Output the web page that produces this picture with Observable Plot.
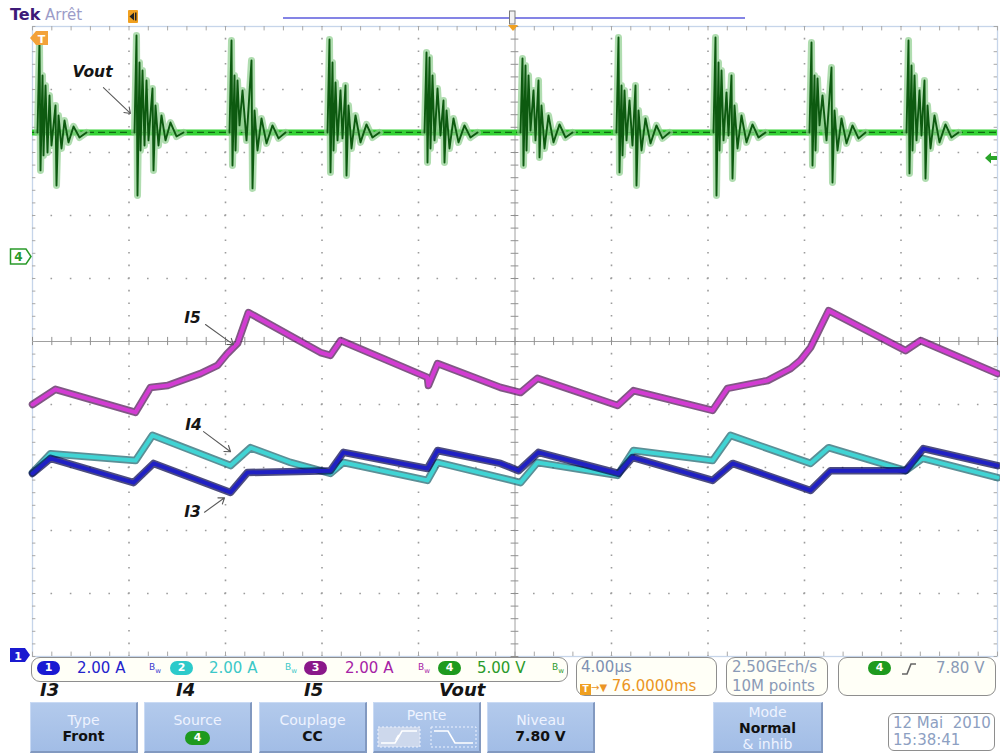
<!DOCTYPE html>
<html><head><meta charset="utf-8">
<script src="https://cdn.jsdelivr.net/npm/d3@7"></script>
<script src="https://cdn.jsdelivr.net/npm/@observablehq/plot@0.6"></script>
<style>
body{margin:0;background:#fff;font-family:"DejaVu Sans",sans-serif;}
#root{position:relative;width:1000px;height:753px;overflow:hidden;background:#fff;}
#root svg.plot{position:absolute;left:0;top:0;}
.abs{position:absolute;white-space:pre;line-height:16px;}
.box{position:absolute;border:1.5px solid #8e8e8e;border-radius:9px;background:#fffff7;box-sizing:border-box;}
.badge{position:absolute;height:14px;width:23px;border-radius:7px;color:#fff;font:bold 11px "DejaVu Sans";text-align:center;line-height:14px;}
.bw{position:absolute;font-size:9px;line-height:10px;}
.lab{position:absolute;font:italic bold 18px "DejaVu Sans";color:#151515;line-height:18px;}
.btn{position:absolute;top:702px;height:51px;width:108px;background:linear-gradient(#b3caec,#a2bde6);border-right:2px solid #8299c0;border-bottom:2px solid #8299c0;border-top:1px solid #c9daf4;border-left:1px solid #c9daf4;box-sizing:border-box;}
.bl{position:absolute;left:0;right:0;text-align:center;color:#eef3ff;font-size:14px;line-height:16px;}
.bv{position:absolute;left:0;right:0;text-align:center;color:#111;font-size:14px;font-weight:bold;line-height:16px;}
#deco{position:absolute;left:0;top:0;pointer-events:none;}
</style>
</head><body>
<div id="root"></div>
<script>
// ---------- data ----------
// time in µs (4 µs/div, 10 divisions), currents in A, Vout in V
const channelNames = ["I3", "I4", "I5", "Vout"];
const unitsPerDiv = [2, 2, 2, 5];          // 2.00 A, 2.00 A, 2.00 A, 5.00 V per division
const groundDiv = [-5, -5, -5, 1.35];       // channel ground reference (divisions from centre)
const timePerDiv = 4;                       // µs/div
const triggerLevel = 7.80;                  // V on channel 4

// I3 (channel 1) [t µs, A]
const i3 = [[0,5.81],[0.75,6.29],[4.19,5.52],[5.02,6.13],[8.21,5.21],[8.91,5.84],[12.35,5.90],[12.89,6.48],[16.37,5.97],[16.79,6.54],[19.40,6.13],[20.15,5.90],[20.97,6.48],[24.29,5.81],[24.87,6.32],[28.19,5.59],[29.02,6.13],[32.25,5.27],[33.08,5.90],[36.19,5.90],[36.93,6.60],[40.00,6.06]];
// I4 (channel 2)
const i4 = [[0,5.84],[0.75,6.44],[4.27,6.22],[4.97,7.02],[8.21,6.06],[9.04,6.63],[10.69,6.16],[12.35,5.81],[12.89,6.16],[16.37,5.59],[16.79,6.16],[19.40,5.68],[20.23,5.52],[20.93,6.16],[24.25,5.75],[24.91,6.54],[28.19,6.22],[28.93,7.02],[32.25,6.13],[33.00,6.63],[36.19,5.90],[36.89,6.29],[40.00,5.68]];
// I5 (channel 3)
const i5 = [[0,8.00],[0.95,8.48],[4.27,7.75],[4.89,8.54],[5.60,8.60],[6.96,8.98],[7.67,9.24],[8.08,9.62],[8.50,9.94],[8.95,10.92],[11.94,9.65],[12.35,9.56],[12.77,10.03],[16.37,8.86],[16.41,8.60],[16.79,9.30],[19.40,8.54],[20.23,8.38],[20.93,8.83],[24.25,7.97],[24.91,8.44],[28.19,7.81],[28.81,8.51],[30.47,8.76],[31.42,9.14],[31.83,9.40],[32.25,9.81],[33.00,10.98],[36.19,9.71],[36.81,10.03],[40.00,8.98]];
// Vout (channel 4): DC level and the ringing bursts [t µs, V]
const voutLevel = 9.84;
const vBurst1 = [[0.207,9.84],[0.290,17.14],[0.332,6.83],[0.415,14.37],[0.456,8.02],[0.539,13.57],[0.622,8.25],[0.705,12.78],[0.788,8.81],[0.953,11.98],[0.995,5.63],[1.078,11.19],[1.202,8.57],[1.326,10.79],[1.492,9.05],[1.700,10.32],[1.948,9.44],[2.238,9.84]];
const vBurst2 = [[4.228,9.84],[4.311,17.54],[4.352,4.84],[4.435,15.40],[4.477,8.41],[4.560,14.76],[4.643,8.81],[4.725,13.97],[4.808,9.21],[4.974,13.33],[5.016,6.83],[5.098,11.98],[5.223,8.81],[5.347,11.19],[5.513,9.21],[5.720,10.63],[5.969,9.52],[6.259,9.84]];
const vBurst3 = [[8.166,9.84],[8.249,17.14],[8.290,7.22],[8.373,14.37],[8.415,8.41],[8.497,13.97],[8.580,10.40],[8.705,13.17],[8.871,9.21],[9.078,15.56],[9.120,5.40],[9.202,11.59],[9.326,8.41],[9.492,10.95],[9.700,8.97],[9.948,10.40],[10.197,9.37],[10.487,9.84]];
const vBurst4 = [[12.228,9.84],[12.311,17.22],[12.352,6.67],[12.435,15.40],[12.477,8.41],[12.560,13.81],[12.643,9.21],[12.767,13.17],[12.850,9.37],[12.974,13.57],[13.016,6.43],[13.098,11.98],[13.223,8.57],[13.389,11.19],[13.596,9.05],[13.845,10.48],[14.093,9.44],[14.383,9.84]];
const vBurst5 = [[16.249,9.84],[16.332,16.19],[16.373,7.46],[16.456,15.79],[16.497,8.57],[16.580,14.37],[16.663,9.21],[16.788,13.33],[16.912,9.60],[17.036,12.38],[17.078,7.46],[17.161,11.59],[17.285,8.57],[17.451,10.95],[17.658,9.05],[17.907,10.40],[18.155,9.44],[18.446,9.84]];
const vBurst6 = [[20.228,9.84],[20.311,15.71],[20.352,7.22],[20.435,15.16],[20.477,8.41],[20.560,14.37],[20.643,10.00],[20.767,13.17],[20.850,9.21],[20.974,13.97],[21.016,7.86],[21.098,11.98],[21.223,8.57],[21.389,11.19],[21.596,9.05],[21.845,10.48],[22.093,9.44],[22.383,9.84]];
const vBurst7 = [[24.207,9.84],[24.290,17.38],[24.332,6.67],[24.415,13.57],[24.456,8.02],[24.539,13.17],[24.622,9.21],[24.746,12.38],[24.870,8.81],[24.995,13.57],[25.036,5.63],[25.119,11.59],[25.244,8.41],[25.409,10.95],[25.617,8.97],[25.865,10.40],[26.114,9.37],[26.404,9.84]];
const vBurst8 = [[28.228,9.84],[28.311,17.38],[28.352,4.84],[28.435,15.40],[28.477,8.41],[28.560,14.76],[28.643,9.21],[28.767,13.02],[28.850,9.60],[28.974,14.37],[29.016,6.19],[29.098,11.98],[29.223,8.57],[29.389,11.19],[29.596,9.05],[29.845,10.48],[30.093,9.44],[30.383,9.84]];
const vBurst9 = [[32.207,9.84],[32.290,16.98],[32.332,7.22],[32.415,14.37],[32.456,8.41],[32.539,14.13],[32.622,10.40],[32.746,12.78],[32.912,9.21],[33.119,15.00],[33.161,5.87],[33.243,11.59],[33.368,8.41],[33.534,10.95],[33.741,8.97],[33.990,10.40],[34.239,9.37],[34.529,9.84]];
const vBurst10 = [[36.228,9.84],[36.311,17.14],[36.352,6.59],[36.435,15.16],[36.477,8.41],[36.560,14.37],[36.642,9.21],[36.767,13.17],[36.850,9.60],[36.974,13.97],[37.016,6.19],[37.099,11.98],[37.223,8.57],[37.389,11.19],[37.596,9.05],[37.845,10.48],[38.093,9.44],[38.383,9.84]];

// annotation labels and arrows (t µs, screen divisions)
const noteText = ["Vout", "I5", "I4", "I3"];
const noteT = [2.49, 6.63, 6.67, 6.63];
const noteDiv = [4.27, 0.38, -1.32, -2.71];
const arrowT1 = [2.94, 7.17, 7.09, 7.13], arrowD1 = [4.03, 0.27, -1.43, -2.71];
const arrowT2 = [4.06, 8.33, 8.21, 7.96], arrowD2 = [3.62, -0.05, -1.75, -2.48];

// ---------- chart ----------
const toDiv = ch => d => d[1] / unitsPerDiv[ch] + groundDiv[ch];
const X = d => d[0];
const majorX = d3.range(0, 10 * timePerDiv + 0.001, timePerDiv);
const majorY = d3.range(-5, 5.001, 1);
const minorX = d3.range(0, 40.001, timePerDiv / 5);
const minorY = d3.range(-5, 5.001, 0.2);
const gridC = "#9c9c9c";
const baseDiv = voutLevel / unitsPerDiv[3] + groundDiv[3];

function band(data, ch, edge, core) {
  return [
    Plot.line(data, {x: X, y: toDiv(ch), stroke: edge, strokeWidth: 7.5, strokeOpacity: 0.7, strokeLinejoin: "round"}),
    Plot.line(data, {x: X, y: toDiv(ch), stroke: core, strokeWidth: 4, strokeLinejoin: "round"})
  ];
}
const bursts = [vBurst1, vBurst2, vBurst3, vBurst4, vBurst5, vBurst6, vBurst7, vBurst8, vBurst9, vBurst10];
const notes = noteText.map((s, i) => ({s, t: noteT[i], d: noteDiv[i], t1: arrowT1[i], d1: arrowD1[i], t2: arrowT2[i], d2: arrowD2[i]}));

const chart = Plot.plot({
  width: 1000, height: 670,
  marginTop: 26, marginBottom: 14, marginLeft: 32, marginRight: 3,
  x: {domain: [0, 40], axis: null},
  y: {domain: [-5, 5], axis: null},
  style: {background: "#fff", overflow: "visible"},
  marks: [
    Plot.frame({stroke: "#c6d5ea", strokeWidth: 1.3}),
    Plot.ruleX(majorX.filter(t => t > 0 && t < 40 && t !== 20), {stroke: gridC, strokeWidth: 1.6, strokeDasharray: "1.6 11", strokeDashoffset: 0.8}),
    Plot.ruleY(majorY.filter(v => v > -5 && v < 5 && v !== 0), {stroke: gridC, strokeWidth: 1.6, strokeDasharray: "1.6 17.7", strokeDashoffset: 0.8}),
    Plot.ruleX([20], {stroke: "#a0a0a0", strokeWidth: 1}),
    Plot.ruleY([0], {stroke: "#a0a0a0", strokeWidth: 1}),
    Plot.ruleX(minorX, {y1: -0.065, y2: 0.065, stroke: "#909090"}),
    Plot.ruleY(minorY, {x1: 19.84, x2: 20.16, stroke: "#909090"}),
    Plot.ruleX(minorX, {y1: 5, y2: 4.93, stroke: "#a8a8a8"}),
    Plot.ruleX(minorX, {y1: -5, y2: -4.93, stroke: "#a8a8a8"}),
    Plot.ruleY(minorY, {x1: 0, x2: 0.14, stroke: "#a8a8a8"}),
    Plot.ruleY(minorY, {x1: 40, x2: 39.86, stroke: "#a8a8a8"}),
    // Vout
    Plot.ruleY([voutLevel], {y: v => v / unitsPerDiv[3] + groundDiv[3], x1: 0, x2: 40, stroke: "#35d235", strokeWidth: 6}),
    Plot.ruleY([voutLevel], {y: v => v / unitsPerDiv[3] + groundDiv[3], x1: 0, x2: 40, stroke: "#116a14", strokeWidth: 1.2, strokeDasharray: "7 4"}),
    ...bursts.map(b => Plot.areaY(b, {x: X, y1: () => baseDiv, y2: toDiv(3), fill: "#7fc47f", fillOpacity: 0.75})),
    ...bursts.map(b => Plot.line(b, {x: X, y: toDiv(3), stroke: "#8fcf8f", strokeWidth: 7, strokeOpacity: 0.7, strokeLinejoin: "round"})),
    ...bursts.map(b => Plot.line(b, {x: X, y: toDiv(3), stroke: "#0d5a10", strokeWidth: 1.9})),
    // currents
    ...band(i5, 2, "#4a1050", "#d23cd2"),
    ...band(i4, 1, "#15606a", "#40d4d4"),
    ...band(i3, 0, "#00004a", "#2020c4"),
    // annotations
    Plot.arrow(notes, {x1: "t1", y1: "d1", x2: "t2", y2: "d2", stroke: "#5a5a5a", strokeWidth: 1.1, headLength: 9, headAngle: 70}),
    Plot.text(notes, {x: "t", y: "d", text: "s", fontSize: 15.5, fontWeight: "bold", fontStyle: "italic", fontFamily: "DejaVu Sans", fill: "#151515"})
  ]
});
chart.classList.add("plot");
const root = document.getElementById("root");
root.appendChild(chart);

// ---------- scope UI around the graticule ----------
const ui = `
<svg id="deco" width="1000" height="753">
  <line x1="283" y1="18" x2="745" y2="18" stroke="#5b5bdc" stroke-width="1.6"/>
  <rect x="509.5" y="11" width="5.5" height="13" fill="#f2f2f2" stroke="#7a7a7a"/>
  <rect x="128" y="10" width="10" height="13" rx="1" fill="#f0a020"/>
  <path d="M134 12.5 L129.5 16.5 L134 20.5Z" fill="#222"/><rect x="135" y="12.5" width="1.5" height="8" fill="#222"/>
  <path d="M508 25 L518 25 L513 31Z" fill="#f0a020"/>
  <path d="M30 38 L36 31 L48 31 L48 45 L36 45Z" fill="#f3a23a"/>
  <text x="41.5" y="42.5" fill="#fff" font-size="11" font-weight="bold" text-anchor="middle" font-family="DejaVu Sans">T</text>
  <path d="M10.5 249 L26 249 L31 256.5 L26 264 L10.5 264Z" fill="#fff" stroke="#2a9a2a" stroke-width="1.5"/>
  <text x="18.5" y="261" fill="#2a9a2a" font-size="12" font-weight="bold" text-anchor="middle" font-family="DejaVu Sans">4</text>
  <path d="M10 648 L25 648 L30 655 L25 662 L10 662Z" fill="#1a1ad0"/>
  <text x="18" y="659.5" fill="#fff" font-size="11" font-weight="bold" text-anchor="middle" font-family="DejaVu Sans">1</text>
  <path d="M985 158 L991 152.5 L991 156 L997 156 L997 160 L991 160 L991 163.5Z" fill="#2aa52a"/>
  <path d="M902 674 L907 674 L911 664 L916 664" stroke="#666" stroke-width="1.6" fill="none"/>
  <rect x="378" y="727" width="42" height="20" fill="#cdd8ec" stroke="#eef3ff" stroke-dasharray="2 2"/>
  <path d="M381 743 L395 743 L402 731 L417 731" stroke="#fff" stroke-width="1.6" fill="none"/>
  <path d="M396 740 L399 735" stroke="#fff" stroke-width="2"/>
  <rect x="431" y="727" width="45" height="20" fill="none" stroke="#eef3ff" stroke-dasharray="2 2"/>
  <path d="M434 731 L448 731 L455 743 L473 743" stroke="#fff" stroke-width="1.6" fill="none"/>
</svg>
<div class="abs" style="left:10px;top:5px;font:bold 16px 'DejaVu Sans';color:#3e1a78">Tek</div>
<div class="abs" style="left:45px;top:6px;font:15px 'DejaVu Sans';color:#9c9cc8">Arrêt</div>

<div class="box" style="left:31px;top:657px;width:537px;height:25px"></div>
<div class="badge" style="left:37px;top:661px;background:#1a1ad2">1</div>
<div class="abs" style="left:77px;top:660px;font-size:15px;color:#2424cc">2.00 A</div>
<div class="bw" style="left:149px;top:662px;color:#3a3ad0">B<sub style="font-size:7px">w</sub></div>
<div class="badge" style="left:170px;top:661px;background:#2ccaca">2</div>
<div class="abs" style="left:209px;top:660px;font-size:15px;color:#3cc8c8">2.00 A</div>
<div class="bw" style="left:285px;top:662px;color:#3cc8c8">B<sub style="font-size:7px">w</sub></div>
<div class="badge" style="left:304px;top:661px;background:#8a188a">3</div>
<div class="abs" style="left:345px;top:660px;font-size:15px;color:#a622a6">2.00 A</div>
<div class="bw" style="left:418px;top:662px;color:#a622a6">B<sub style="font-size:7px">w</sub></div>
<div class="badge" style="left:438px;top:661px;background:#1e9a1e">4</div>
<div class="abs" style="left:477px;top:660px;font-size:15px;color:#2a9a2a">5.00 V</div>
<div class="bw" style="left:552px;top:662px;color:#2a9a2a">B<sub style="font-size:7px">w</sub></div>

<div class="box" style="left:576px;top:657px;width:141px;height:39px"></div>
<div class="abs" style="left:581px;top:659px;font-size:15px;color:#7d90b2">4.00µs</div>
<div class="abs" style="left:580px;top:678px;font-size:15px;color:#eb9523"><span style="display:inline-block;width:11px;height:11px;background:#f0a020;color:#fff;font-size:9px;line-height:11px;text-align:center;vertical-align:-1px;font-weight:bold">T</span><span style="font-size:10px">→▼</span> 76.0000ms</div>
<div class="box" style="left:726px;top:657px;width:102px;height:39px"></div>
<div class="abs" style="left:732px;top:659px;font-size:15px;color:#8a9ab6">2.50GEch/s</div>
<div class="abs" style="left:732px;top:678px;font-size:15px;color:#8a9ab6">10M points</div>
<div class="box" style="left:838px;top:657px;width:158px;height:39px"></div>
<div class="badge" style="left:868px;top:661px;background:#1e9a1e">4</div>
<div class="abs" style="left:936px;top:660px;font-size:15px;color:#8a9ab6">${triggerLevel.toFixed(2)} V</div>

<div class="lab" style="left:40px;top:681px">${channelNames[0]}</div>
<div class="lab" style="left:176px;top:681px">${channelNames[1]}</div>
<div class="lab" style="left:304px;top:681px">${channelNames[2]}</div>
<div class="lab" style="left:439px;top:681px">${channelNames[3]}</div>

<div class="btn" style="left:30px"><div class="bl" style="top:9px">Type</div><div class="bv" style="top:25px">Front</div></div>
<div class="btn" style="left:144px"><div class="bl" style="top:9px">Source</div><div class="badge" style="left:40px;top:28px;width:25px;height:14px;background:#1e9a1e">4</div></div>
<div class="btn" style="left:259px"><div class="bl" style="top:9px">Couplage</div><div class="bv" style="top:25px">CC</div></div>
<div class="btn" style="left:373px"><div class="bl" style="top:4px">Pente</div></div>
<div class="btn" style="left:487px"><div class="bl" style="top:9px">Niveau</div><div class="bv" style="top:25px">${triggerLevel.toFixed(2)} V</div></div>
<div class="btn" style="left:713px;width:110px"><div class="bl" style="top:1px">Mode</div><div class="bv" style="top:17px">Normal</div><div class="bl" style="top:33px">&amp; inhib</div></div>
<div class="box" style="left:888px;top:713px;width:107px;height:38px;border-radius:6px;background:#fff"></div>
<div class="abs" style="left:893px;top:715px;font-size:15px;color:#8da0c2">12 Mai  2010</div>
<div class="abs" style="left:893px;top:732px;font-size:15px;color:#8da0c2">15:38:41</div>
`;
root.insertAdjacentHTML("beforeend", ui);
const deco = document.getElementById("deco");
root.appendChild(deco);
</script>
</body></html>
